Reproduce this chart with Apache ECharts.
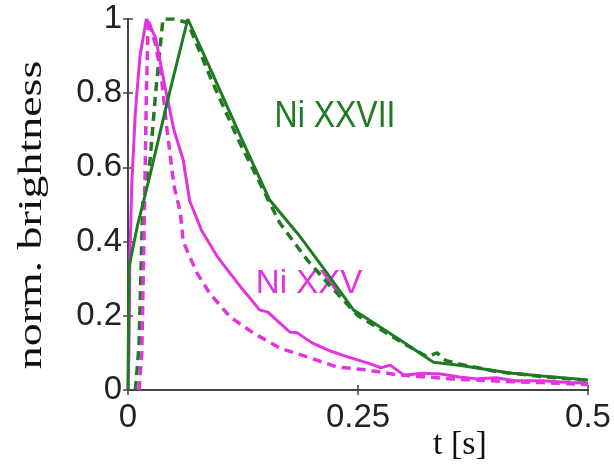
<!DOCTYPE html>
<html>
<head>
<meta charset="utf-8">
<script src="https://cdn.jsdelivr.net/npm/echarts@6/dist/echarts.min.js"></script>
<style>html,body{margin:0;padding:0;background:#fff}#c{width:614px;height:465px}</style>
</head>
<body>
<div id="c"></div>
<script>
// ---- data ----
const xTicks = [0, 0.25, 0.5];
const yTicks = [0, 0.2, 0.4, 0.6, 0.8, 1];

const tNiXXVIIsolid = [0, 0.001, 0.01, 0.024, 0.045, 0.065, 0.095, 0.124, 0.154, 0.185, 0.212, 0.245, 0.274, 0.3, 0.332, 0.36, 0.415, 0.45, 0.5];
const vNiXXVIIsolid = [0, 0.33, 0.44, 0.58, 0.8, 1, 0.835, 0.674, 0.512, 0.42, 0.33, 0.216, 0.17, 0.128, 0.075, 0.067, 0.046, 0.038, 0.027];

const tNiXXVIIdash = [0.008, 0.012, 0.016, 0.024, 0.03, 0.038, 0.05, 0.065, 0.09, 0.12, 0.165, 0.195, 0.22, 0.25, 0.28, 0.3, 0.325, 0.336, 0.345, 0.36, 0.4, 0.45, 0.5];
const vNiXXVIIdash = [0, 0.12, 0.5, 0.62, 0.8, 1, 1, 0.99, 0.84, 0.674, 0.45, 0.35, 0.28, 0.2, 0.155, 0.125, 0.09, 0.1, 0.08, 0.07, 0.05, 0.036, 0.026];

const tNiXXVsolid = [0, 0.001, 0.002, 0.004, 0.008, 0.013, 0.02, 0.03, 0.04, 0.05, 0.06, 0.067, 0.08, 0.097, 0.103, 0.125, 0.143, 0.152, 0.176, 0.184, 0.2, 0.22, 0.238, 0.26, 0.275, 0.285, 0.3, 0.32, 0.34, 0.36, 0.38, 0.4, 0.42, 0.45, 0.48, 0.5];
const vNiXXVsolid = [0, 0.1, 0.35, 0.55, 0.75, 0.9, 1, 0.95, 0.82, 0.7, 0.62, 0.51, 0.43, 0.36, 0.34, 0.27, 0.216, 0.21, 0.156, 0.154, 0.127, 0.105, 0.09, 0.073, 0.06, 0.067, 0.04, 0.045, 0.043, 0.035, 0.03, 0.033, 0.025, 0.025, 0.02, 0.018];

const tNiXXVdash = [0.012, 0.015, 0.018, 0.02, 0.022, 0.03, 0.036, 0.042, 0.05, 0.057, 0.06, 0.075, 0.089, 0.111, 0.136, 0.165, 0.195, 0.227, 0.26, 0.29, 0.32, 0.35, 0.4, 0.45, 0.5];
const vNiXXVdash = [0, 0.1, 0.5, 0.8, 1, 0.93, 0.85, 0.71, 0.55, 0.477, 0.4, 0.315, 0.26, 0.197, 0.154, 0.113, 0.089, 0.062, 0.054, 0.042, 0.036, 0.03, 0.024, 0.02, 0.015];

const seriesNames = ['Ni XXVII', 'Ni XXVII model', 'Ni XXV', 'Ni XXV model'];
const labelTexts = ['Ni XXVII', 'Ni XXV'];
const xTitle = 't [s]';
const yTitle = 'norm. brightness';

// ---- chart ----
const GREEN = '#1f7a22';
const MAGENTA = '#e233e0';
const zip = (t, v) => t.map((x, i) => [x, v[i]]);

const chart = echarts.init(document.getElementById('c'), null, {renderer: 'canvas'});
const axisLine = {show: true, lineStyle: {color: '#444', width: 2}};
const tickStyle = {show: true, inside: true, length: 5, lineStyle: {color: '#444', width: 1.5}};
const labelFont = {fontFamily: '"Liberation Sans", Arial, sans-serif', fontSize: 33, color: '#222'};

chart.setOption({
  animation: false,
  backgroundColor: '#fff',
  grid: {left: 128, right: 26, top: 19, bottom: 75, containLabel: false},
  xAxis: [
    {type: 'value', min: 0, max: 0.5, interval: 0.25, position: 'bottom',
     axisLine, axisTick: tickStyle, splitLine: {show: false},
     axisLabel: Object.assign({margin: 11, formatter: v => String(v)}, labelFont)},
    {type: 'value', min: 0, max: 0.5, interval: 0.25, position: 'top',
     axisLine, axisTick: tickStyle, splitLine: {show: false}, axisLabel: {show: false}}
  ],
  yAxis: [
    {type: 'value', min: 0, max: 1, interval: 0.2, position: 'left',
     axisLine, axisTick: tickStyle, splitLine: {show: false},
     axisLabel: Object.assign({margin: 6, formatter: v => String(Math.round(v * 10) / 10)}, labelFont)},
    {type: 'value', min: 0, max: 1, interval: 0.2, position: 'right',
     axisLine, axisTick: tickStyle, splitLine: {show: false}, axisLabel: {show: false}}
  ],
  series: [
    {name: seriesNames[1], type: 'line', data: zip(tNiXXVIIdash, vNiXXVIIdash), showSymbol: false,
     lineStyle: {color: GREEN, width: 3.5, type: [9, 6]}, z: 2},
    {name: seriesNames[3], type: 'line', data: zip(tNiXXVdash, vNiXXVdash), showSymbol: false,
     lineStyle: {color: MAGENTA, width: 3.5, type: [9, 6]}, z: 2},
    {name: seriesNames[2], type: 'line', data: zip(tNiXXVsolid, vNiXXVsolid), showSymbol: false,
     lineStyle: {color: MAGENTA, width: 3}, z: 3},
    {name: seriesNames[0], type: 'line', data: zip(tNiXXVIIsolid, vNiXXVIIsolid), showSymbol: false,
     lineStyle: {color: GREEN, width: 3}, z: 4}
  ],
  graphic: [
    {type: 'text', x: 335, y: 117, scaleY: 1.15, style: {text: labelTexts[0], fill: GREEN,
      font: '32px "Liberation Sans", Arial, sans-serif', textAlign: 'center', textVerticalAlign: 'middle'}},
    {type: 'text', x: 309, y: 284, style: {text: labelTexts[1], fill: MAGENTA,
      font: '33px "Liberation Sans", Arial, sans-serif', textAlign: 'center', textVerticalAlign: 'middle'}},
    {type: 'text', x: 460, y: 445, style: {text: xTitle, fill: '#111',
      font: '34px "Liberation Serif", "Times New Roman", serif', textAlign: 'center', textVerticalAlign: 'middle'}},
    {type: 'text', x: 32, y: 215, rotation: Math.PI / 2, scaleX: 1.35, style: {text: yTitle, fill: '#111',
      font: '34px "Liberation Serif", "Times New Roman", serif', textAlign: 'center', textVerticalAlign: 'middle'}}
  ]
});
</script>
</body>
</html>
